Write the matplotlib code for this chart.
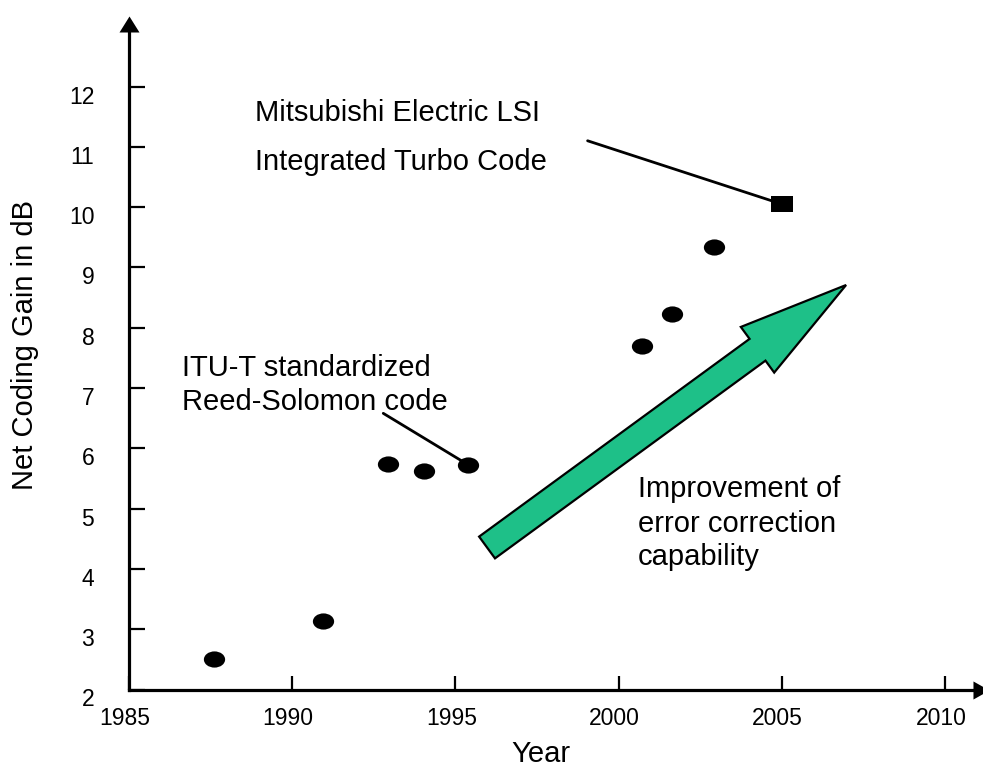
import matplotlib
matplotlib.use('Agg')
import matplotlib.pyplot as plt
from matplotlib.path import Path
from matplotlib.patches import FancyArrowPatch
from matplotlib.transforms import Affine2D, ScaledTranslation

plt.rcParams['font.family'] = ['Liberation Sans', 'DejaVu Sans']

# net coding gain of FEC codes over the years
years = [1987.6, 1990.95, 1992.95, 1994.05, 1995.38, 2000.71, 2001.64, 2002.93]
gains = [2.5, 3.13, 5.74, 5.62, 5.73, 7.69, 8.23, 9.34]
turbo_year = [2005.0]
turbo_gain = [10.05]

x_ticks = [1985, 1990, 1995, 2000, 2005, 2010]
y_ticks = [2, 3, 4, 5, 6, 7, 8, 9, 10, 11, 12]

W, H = 983, 769
fig = plt.figure(figsize=(W / 100, H / 100), dpi=100)
# axes box in pixels: x 129..983, y 17..689.5 (from top)
ax = fig.add_axes([129 / W, (H - 689.5) / H, (W - 129) / W, (689.5 - 17) / H])
ax.set_xlim(1985, 1985 + 854 / 32.64)
ax.set_ylim(2, 2 + 672.5 / 60.3)

for side in ('top', 'right'):
    ax.spines[side].set_visible(False)
for side in ('left', 'bottom'):
    ax.spines[side].set_linewidth(2.3)
ax.spines['left'].set_bounds(2, 12.95)

ax.set_xticks(x_ticks)
ax.set_yticks(y_ticks)
ax.tick_params(axis='x', direction='in', length=10, width=1.6, labelsize=16.5, pad=12.5)
ax.tick_params(axis='y', direction='in', length=11.5, width=1.6, labelsize=16.5, pad=25)
for lab in ax.get_yticklabels():
    lab.set_transform(lab.get_transform() + ScaledTranslation(0, -0.08, fig.dpi_scale_trans))
for lab in ax.get_xticklabels():
    lab.set_transform(lab.get_transform() + ScaledTranslation(-0.04, 0, fig.dpi_scale_trans))

# axis arrow heads
up_tri = [(-1, -0.8), (1, -0.8), (0, 0.8), (-1, -0.8)]
right_tri = [(-0.889, -1), (-0.889, 1), (0.889, 0), (-0.889, -1)]
ax.plot([1985], [2 + (689.5 - 24.5) / 60.3], marker=up_tri, ms=14.4, color='black',
        mew=0, clip_on=False, zorder=5)
ax.plot([1985 + (981 - 129) / 32.64], [2], marker=right_tri, ms=13, color='black',
        mew=0, clip_on=False, zorder=5)

# markers
ellipse = Path.unit_circle().transformed(Affine2D().scale(1.0, 16 / 21))
square = [(-1, -0.727), (1, -0.727), (1, 0.727), (-1, 0.727), (-1, -0.727)]
ax.plot(years, gains, linestyle='none', marker=ellipse, ms=15.3, color='black',
        mew=0, zorder=4)
ax.plot(turbo_year, turbo_gain, linestyle='none', marker=square, ms=15.8, color='black',
        mew=0, zorder=4)

# callout lines
ax.annotate('', xy=(years[4], gains[4]), xytext=(1992.79, 6.58),
            arrowprops=dict(arrowstyle='-', lw=2, color='black', shrinkA=0, shrinkB=0))
ax.annotate('', xy=(turbo_year[0], turbo_gain[0]), xytext=(1999.05, 11.1),
            arrowprops=dict(arrowstyle='-', lw=2, color='black', shrinkA=0, shrinkB=0))

fs = 21
ax.text(1988.87, 11.42, 'Mitsubishi Electric LSI', fontsize=fs, va='baseline')
ax.text(1988.87, 10.62, 'Integrated Turbo Code', fontsize=fs, va='baseline')
ax.text(1986.62, 7.2, 'ITU-T standardized', fontsize=fs, va='baseline')
ax.text(1986.62, 6.635, 'Reed-Solomon code', fontsize=fs, va='baseline')
ax.text(2000.6, 5.2, 'Improvement of', fontsize=fs, va='baseline')
ax.text(2000.6, 4.617, 'error correction', fontsize=fs, va='baseline')
ax.text(2000.6, 4.07, 'capability', fontsize=fs, va='baseline')

# big green trend arrow
trend = FancyArrowPatch(posA=(1995.97, 4.355), posB=(2006.97, 8.708),
                        arrowstyle='simple,head_length=79,head_width=40.7,tail_width=19.4',
                        mutation_scale=1, fc='#1ec088', ec='black', lw=1.6,
                        shrinkA=0, shrinkB=0, joinstyle='miter', zorder=3)
ax.add_patch(trend)

ax.set_xlabel('Year', fontsize=fs, va='bottom')
ax.xaxis.set_label_coords(541 / W, 1 / H, transform=fig.transFigure)
ax.set_ylabel('Net Coding Gain in dB', fontsize=fs, va='center')
ax.yaxis.set_label_coords(25 / W, (H - 345.5) / H, transform=fig.transFigure)

fig.savefig('out.png', dpi=100)
